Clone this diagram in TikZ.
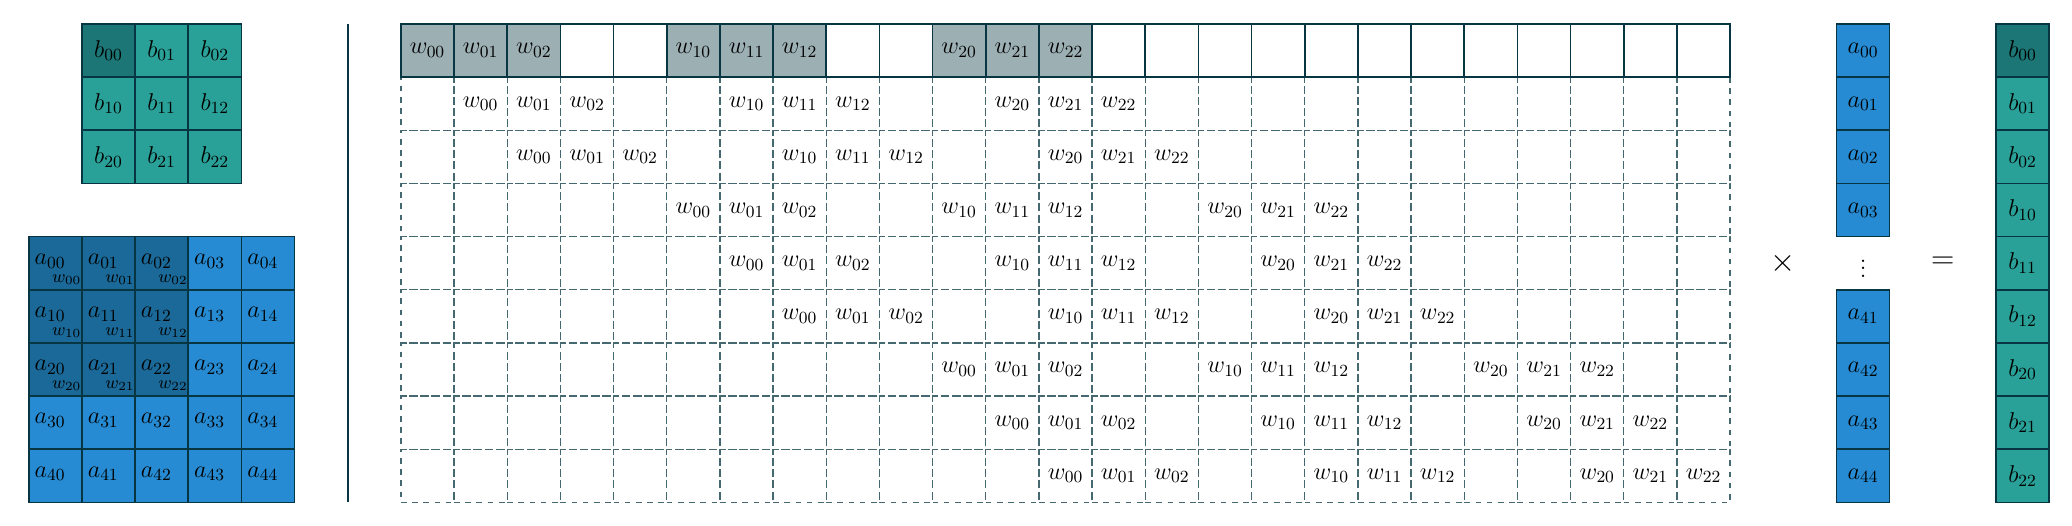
\RequirePackage{fix-cm}
\documentclass[tikz,border=0pt]{standalone}
\usepackage{amsmath}
\definecolor{base02}{HTML}{073642}
\definecolor{sblue}{HTML}{268BD2}
\definecolor{scyan}{HTML}{2AA198}
\newcommand{\cellfont}{\fontsize{13}{15}\selectfont}
\newcommand{\smallfont}{\fontsize{9.5}{11}\selectfont}
\begin{document}
\begin{tikzpicture}[x=1cm,y=1cm,
  cell/.style={draw=base02, line width=0.9pt, minimum size=1cm, inner sep=0pt, font=\cellfont, anchor=center},
  acell/.style={cell, fill=sblue},
  kcell/.style={cell, fill=sblue!60!base02},
  bcell/.style={cell, fill=scyan},
  bdark/.style={cell, fill=scyan!60!base02},
  wcell/.style={cell, fill=base02!40},
  ecell/.style={cell, fill=white},
  dcell/.style={draw=base02!75, dashed, line width=0.7pt, minimum size=1cm, inner sep=0pt, font=\cellfont, anchor=center},
  alab/.style={anchor=base west, inner sep=0pt, font=\cellfont},
  wlab/.style={anchor=base east, inner sep=0pt, font=\smallfont},
  optext/.style={inner sep=0pt, font=\LARGE}
]
\useasboundingbox (-7.54,-9.44) rectangle (31.43,0.45);

% b grid 3x3
\foreach \i in {0,1,2}{
  \foreach \j in {0,1,2}{
    \pgfmathtruncatemacro\k{(\i==0)&&(\j==0)}
    \ifnum\k=1 \def\sty{bdark}\else\def\sty{bcell}\fi
    \node[\sty] (b\i\j) at (-6+\j+0.5,-\i-0.5) {$b_{\i\j}$};
  }
}

% a grid 5x5
\foreach \i in {0,...,4}{
  \foreach \j in {0,...,4}{
    \pgfmathtruncatemacro\k{(\i<3)&&(\j<3)}
    \ifnum\k=1 \def\sty{kcell}\else\def\sty{acell}\fi
    \node[\sty] (a\i\j) at (-7+\j+0.5,-4-\i-0.5) {};
    \node[alab] (al\i\j) at ([xshift=0.12cm,yshift=-0.54cm]a\i\j.north west) {$a_{\i\j}$};
    \ifnum\k=1
      \node[wlab] (wl\i\j) at ([xshift=-0.02cm,yshift=-0.88cm]a\i\j.north east) {$w_{\i\j}$};
    \fi
  }
}

% separator
\coordinate (s1) at (-1,0);
\coordinate (s2) at (-1,-9);
\draw[base02, line width=0.9pt] (s1) -- (s2);

% matrix rows 1..8 (dashed)
\foreach \r in {1,...,8}{
  \foreach \c in {0,...,24}{
    \pgfmathtruncatemacro\o{5*int(\r/3)+mod(\r,3)}
    \pgfmathtruncatemacro\d{\c-\o}
    \pgfmathtruncatemacro\ok{(\d>=0)&&(\d<13)&&(mod(\d,5)<3)}
    \pgfmathtruncatemacro\p{int(\d/5)}
    \pgfmathtruncatemacro\q{mod(\d,5)}
    \ifnum\ok=1
      \node[dcell] (m\r-\c) at (\c+0.5,-\r-0.5) {$w_{\p\q}$};
    \else
      \node[dcell] (m\r-\c) at (\c+0.5,-\r-0.5) {};
    \fi
  }
}
% matrix row 0 (solid)
\foreach \c in {0,...,24}{
  \pgfmathtruncatemacro\ok{(\c<13)&&(mod(\c,5)<3)}
  \pgfmathtruncatemacro\p{int(\c/5)}
  \pgfmathtruncatemacro\q{mod(\c,5)}
  \ifnum\ok=1
    \node[wcell] (m0-\c) at (\c+0.5,-0.5) {$w_{\p\q}$};
  \else
    \node[ecell] (m0-\c) at (\c+0.5,-0.5) {};
  \fi
}

% operator
\node[optext] (times) at (26,-4.5) {$\times$};

% a vector
\foreach \r/\l in {0/00,1/01,2/02,3/03,5/41,6/42,7/43,8/44}{
  \node[acell] (va\r) at (27.5,-\r-0.5) {$a_{\l}$};
}
\node[inner sep=0pt, font=\cellfont] (vdots) at (27.5,-4.5) {$\vdots$};

\node[optext] (eq) at (29,-4.5) {$=$};

% b vector
\foreach \r/\l in {0/00,1/01,2/02,3/10,4/11,5/12,6/20,7/21,8/22}{
  \ifnum\r=0 \def\sty{bdark}\else\def\sty{bcell}\fi
  \node[\sty] (vb\r) at (30.5,-\r-0.5) {$b_{\l}$};
}
\end{tikzpicture}
\end{document}
